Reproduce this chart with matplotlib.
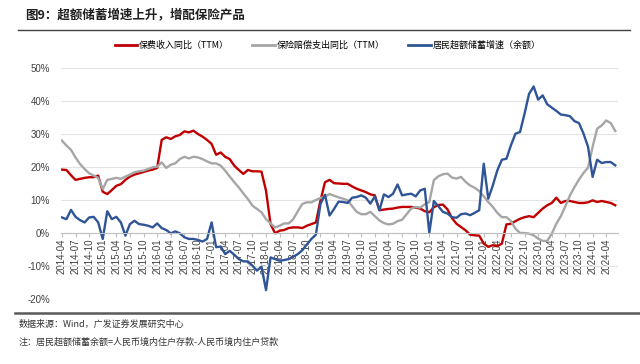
"""
图9：超额储蓄增速上升，增配保险产品
"""
import matplotlib
matplotlib.use('Agg')
import matplotlib.pyplot as plt
from matplotlib.lines import Line2D
import pandas as pd

# 字体设置
plt.rcParams['font.family'] = ['Noto Sans CJK SC', 'DejaVu Sans']
plt.rcParams['axes.unicode_minus'] = False

# 月度数据：2014-04 ~ 2024-06
months = pd.date_range('2014-04-01', periods=123, freq='MS').strftime('%Y-%m').tolist()

# 保费收入同比（TTM），%
premium_yoy = [
    19.2, 19.1, 17.5, 16.1, 16.4, 16.7, 16.9, 16.9, 17.4, 12.5,
    11.8, 13.0, 14.3, 14.8, 16.1, 17.1, 17.7, 18.1, 18.5, 18.9,
    19.2, 19.7, 28.2, 29.0, 28.5, 29.3, 29.7, 30.8, 30.5, 31.0,
    30.0, 29.2, 28.2, 27.0, 23.7, 24.4, 23.1, 22.4, 20.4, 19.1,
    17.9, 19.1, 18.7, 18.7, 18.6, 12.8, 2.7, -0.1, 0.7, 0.9,
    1.5, 1.7, 1.7, 1.5, 2.2, 2.7, 3.2, 9.8, 15.4, 16.1,
    15.1, 15.0, 14.9, 14.9, 14.1, 13.4, 12.9, 12.4, 11.7, 11.4,
    6.9, 7.1, 7.3, 7.4, 7.7, 7.9, 7.9, 7.9, 7.7, 7.4,
    6.6, 6.3, 7.8, 8.5, 8.6, 7.2, 4.5, 2.8, 1.8, 0.8,
    -0.5, -0.7, -0.8, -3.2, -4.2, -3.7, -4.0, -3.2, 2.6, 2.8,
    3.6, 4.3, 4.8, 5.1, 4.8, 6.1, 7.4, 8.4, 9.1, 10.7,
    9.1, 9.7, 9.7, 9.4, 9.1, 9.1, 9.3, 9.9, 9.4, 9.7,
    9.4, 9.1, 8.4,
]

# 保险赔偿支出同比（TTM），%
claims_yoy = [
    28.0, 26.5, 25.2, 22.9, 20.9, 19.4, 18.1, 17.4, 16.7, 13.3,
    16.1, 16.4, 16.7, 16.4, 17.1, 17.7, 18.4, 18.7, 18.9, 19.4,
    19.9, 20.1, 21.4, 19.7, 20.7, 21.1, 22.4, 23.1, 22.6, 23.1,
    22.9, 22.4, 21.7, 21.1, 21.1, 20.4, 18.9, 17.1, 15.4, 13.8,
    12.0, 10.3, 8.3, 7.3, 6.3, 4.2, 2.9, 1.7, 2.2, 2.9,
    2.9, 4.2, 6.6, 8.8, 9.3, 9.3, 10.0, 10.6, 11.0, 11.8,
    11.3, 10.8, 10.4, 9.9, 8.1, 6.4, 5.7, 5.7, 6.4, 5.1,
    3.8, 3.0, 2.6, 2.8, 3.6, 4.0, 5.7, 7.4, 7.9, 7.7,
    8.7, 9.4, 16.0, 17.2, 17.8, 18.0, 16.8, 16.5, 17.0, 15.5,
    14.4, 13.7, 12.7, 11.1, 9.4, 7.9, 6.1, 4.8, 4.8, 3.6,
    1.3, 0.0, 0.0, -0.2, -0.7, -1.7, -2.4, -2.4, -0.2, 2.8,
    5.1, 8.1, 11.4, 13.9, 16.2, 18.2, 19.8, 26.1, 31.6, 32.6,
    34.1, 33.3, 30.9,
]

# 居民超额储蓄增速（余额），%
savings_yoy = [
    4.7, 4.2, 7.0, 4.9, 3.9, 3.2, 4.7, 4.9, 3.2, -1.8,
    6.6, 4.2, 4.9, 3.2, -0.8, 2.7, 3.7, 2.7, 2.5, 2.2,
    1.7, 2.9, 1.5, 0.9, -0.1, 0.5, -0.1, -1.3, -1.8, -1.8,
    -2.1, -2.6, -1.8, 3.2, -4.3, -4.1, -6.4, -5.4, -6.6, -7.9,
    -8.6, -8.6, -9.9, -11.4, -10.2, -17.3, -7.4, -7.9, -8.4, -8.2,
    -7.9, -7.2, -6.4, -5.2, -3.5, -1.8, -0.5, 8.8, 11.6, 5.3,
    7.3, 9.5, 9.4, 9.1, 10.7, 10.9, 11.4, 10.7, 8.9, 11.1,
    6.9, 11.7, 10.9, 11.9, 14.7, 11.4, 11.7, 11.9, 11.1, 12.9,
    13.4, 0.0, 9.7, 8.1, 6.4, 5.9, 4.8, 4.6, 5.7, 5.9,
    5.4, 6.1, 6.9, 21.0, 10.4, 14.4, 19.0, 22.2, 22.5, 26.6,
    30.1, 30.6, 36.2, 42.2, 44.4, 40.4, 41.7, 39.0, 38.0, 37.0,
    35.9, 35.7, 35.4, 33.9, 33.3, 30.1, 26.1, 17.0, 22.2, 21.2,
    21.5, 21.5, 20.5,
]

series_labels = ['保费收入同比（TTM）', '保险赔偿支出同比（TTM）', '居民超额储蓄增速（余额）']
colors = ['#C00000', '#A6A6A6', '#2F5597']

fig = plt.figure(figsize=(6.4, 3.64), dpi=100)
ax = fig.add_axes([61 / 640, 1 - 299 / 364, 557 / 640, 231 / 364])

x = list(range(len(months)))
for values, color in zip([premium_yoy, claims_yoy, savings_yoy], colors):
    ax.plot(x, values, color=color, linewidth=1.7, solid_joinstyle='round')

# 坐标轴
ax.set_ylim(-20, 50)
ax.set_xlim(-0.2, 122.6)
ax.set_yticks(range(-20, 51, 10))
ax.set_yticklabels([f'{v}%' for v in range(-20, 51, 10)], fontsize=7, color='#404040',
                   family='Liberation Sans')
ax.grid(axis='y', color='#E3E3E3', linewidth=0.8)
ax.set_axisbelow(True)
for side in ['top', 'right', 'left']:
    ax.spines[side].set_visible(False)
ax.spines['bottom'].set_position(('data', 0))
ax.spines['bottom'].set_color('#BFBFBF')
ax.spines['bottom'].set_linewidth(0.8)
ax.tick_params(axis='y', length=0, pad=8)

tick_pos = x[::3]
ax.set_xticks(tick_pos)
ax.set_xticklabels(months[::3], rotation=90, fontsize=7, color='#404040',
                   family='Liberation Sans')
ax.tick_params(axis='x', length=3, color='#BFBFBF', pad=1)

# 图例
handles = [Line2D([0], [0], color=c, linewidth=2) for c in colors]
fig.legend(handles, series_labels, loc='center', bbox_to_anchor=(0.512, 1 - 45 / 364),
           ncol=3, frameon=False, fontsize=6.5, handlelength=2.5, handletextpad=0.2,
           columnspacing=2.6)

# 标题与分隔线
fig.text(25 / 640, 1 - 15 / 364, '图9：超额储蓄增速上升，增配保险产品', fontsize=9,
         fontweight='bold', color='#1F1F1F', va='center')
fig.add_artist(Line2D([18 / 640, 630 / 640], [1 - 29.5 / 364] * 2, color='#404040',
                      linewidth=1.0))
fig.add_artist(Line2D([15 / 640, 1.0], [1 - 313 / 364] * 2, color='#595959',
                      linewidth=1.8))

# 数据来源与注释
fig.text(19 / 640, 1 - 324 / 364, '数据来源：Wind，广发证券发展研究中心', fontsize=6.5,
         color='#333333', va='center')
fig.text(19 / 640, 1 - 342 / 364, '注：居民超额储蓄余额=人民币境内住户存款-人民币境内住户贷款',
         fontsize=6.5, color='#333333', va='center')

fig.savefig('out.png', dpi=100)
